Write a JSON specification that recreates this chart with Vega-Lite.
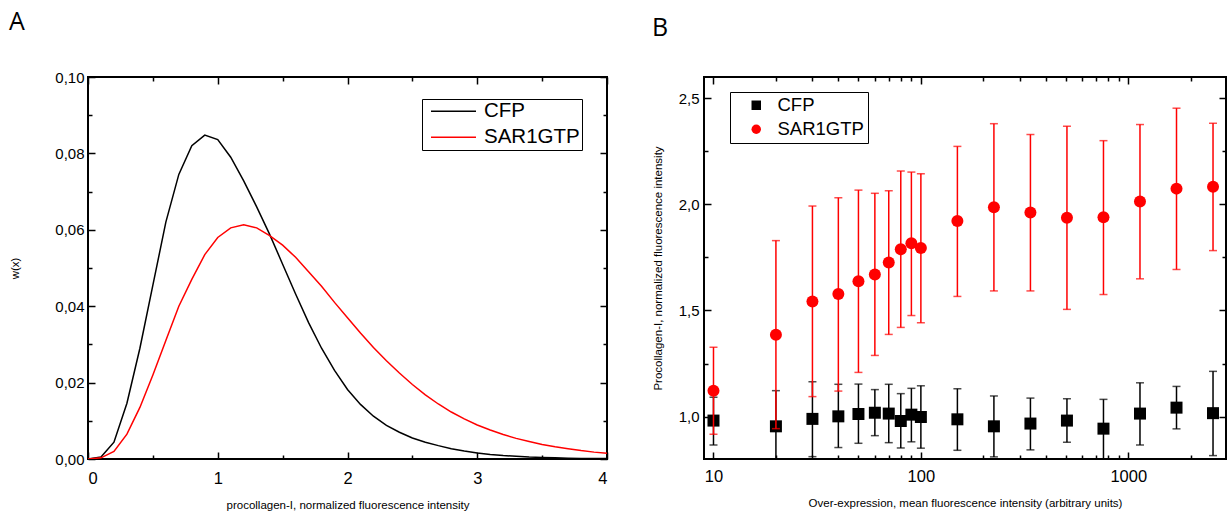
{
  "$schema": "https://vega.github.io/schema/vega-lite/v6.json",
  "background": "white",
  "padding": {"left": 8, "top": 9, "right": 0, "bottom": 0},
  "spacing": 40,
  "resolve": {"scale": {"color": "independent", "shape": "independent"}, "legend": {"color": "independent", "shape": "independent"}},
  "config": {
    "view": {"stroke": "black", "strokeWidth": 2},
    "axis": {"domain": false, "grid": false, "labelFont": "Liberation Sans", "labelFontSize": 15, "labelColor": "black", "titleFont": "Liberation Sans", "titleFontSize": 11.5, "titleFontWeight": "normal", "titleColor": "black", "tickColor": "black", "tickWidth": 1.5},
    "title": {"font": "Open Sans", "fontSize": 25, "fontWeight": "normal", "anchor": "start", "frame": "bounds", "baseline": "alphabetic", "offset": 35, "color": "black"}
  },
  "datasets": {
    "dist": [
      {"x": 0, "curve": "CFP", "w": 0}, {"x": 0.1, "curve": "CFP", "w": 0.0005}, {"x": 0.2, "curve": "CFP", "w": 0.0044}, {"x": 0.3, "curve": "CFP", "w": 0.0146}, {"x": 0.4, "curve": "CFP", "w": 0.029}, {"x": 0.5, "curve": "CFP", "w": 0.0455}, {"x": 0.6, "curve": "CFP", "w": 0.062}, {"x": 0.7, "curve": "CFP", "w": 0.0745}, {"x": 0.8, "curve": "CFP", "w": 0.082}, {"x": 0.9, "curve": "CFP", "w": 0.0848}, {"x": 1.0, "curve": "CFP", "w": 0.0836}, {"x": 1.1, "curve": "CFP", "w": 0.079}, {"x": 1.2, "curve": "CFP", "w": 0.0728}, {"x": 1.3, "curve": "CFP", "w": 0.066}, {"x": 1.4, "curve": "CFP", "w": 0.0588}, {"x": 1.5, "curve": "CFP", "w": 0.051}, {"x": 1.6, "curve": "CFP", "w": 0.0432}, {"x": 1.7, "curve": "CFP", "w": 0.0357}, {"x": 1.8, "curve": "CFP", "w": 0.029}, {"x": 1.9, "curve": "CFP", "w": 0.0232}, {"x": 2.0, "curve": "CFP", "w": 0.0182}, {"x": 2.1, "curve": "CFP", "w": 0.0143}, {"x": 2.2, "curve": "CFP", "w": 0.0112}, {"x": 2.3, "curve": "CFP", "w": 0.0088}, {"x": 2.4, "curve": "CFP", "w": 0.007}, {"x": 2.5, "curve": "CFP", "w": 0.0055}, {"x": 2.6, "curve": "CFP", "w": 0.0044}, {"x": 2.7, "curve": "CFP", "w": 0.0035}, {"x": 2.8, "curve": "CFP", "w": 0.0027}, {"x": 2.9, "curve": "CFP", "w": 0.0021}, {"x": 3.0, "curve": "CFP", "w": 0.0016}, {"x": 3.1, "curve": "CFP", "w": 0.0012}, {"x": 3.2, "curve": "CFP", "w": 0.0009}, {"x": 3.3, "curve": "CFP", "w": 0.0007}, {"x": 3.4, "curve": "CFP", "w": 0.0005}, {"x": 3.5, "curve": "CFP", "w": 0.0004}, {"x": 3.6, "curve": "CFP", "w": 0.0003}, {"x": 3.7, "curve": "CFP", "w": 0.0002}, {"x": 3.8, "curve": "CFP", "w": 0.0001}, {"x": 3.9, "curve": "CFP", "w": 0.0001}, {"x": 4.0, "curve": "CFP", "w": 0.0001},
      {"x": 0, "curve": "SAR1GTP", "w": 0}, {"x": 0.1, "curve": "SAR1GTP", "w": 0.0003}, {"x": 0.2, "curve": "SAR1GTP", "w": 0.002}, {"x": 0.3, "curve": "SAR1GTP", "w": 0.0065}, {"x": 0.4, "curve": "SAR1GTP", "w": 0.0135}, {"x": 0.5, "curve": "SAR1GTP", "w": 0.022}, {"x": 0.6, "curve": "SAR1GTP", "w": 0.031}, {"x": 0.7, "curve": "SAR1GTP", "w": 0.04}, {"x": 0.8, "curve": "SAR1GTP", "w": 0.047}, {"x": 0.9, "curve": "SAR1GTP", "w": 0.0535}, {"x": 1.0, "curve": "SAR1GTP", "w": 0.058}, {"x": 1.1, "curve": "SAR1GTP", "w": 0.0605}, {"x": 1.2, "curve": "SAR1GTP", "w": 0.0613}, {"x": 1.3, "curve": "SAR1GTP", "w": 0.0605}, {"x": 1.4, "curve": "SAR1GTP", "w": 0.0585}, {"x": 1.5, "curve": "SAR1GTP", "w": 0.056}, {"x": 1.6, "curve": "SAR1GTP", "w": 0.0528}, {"x": 1.7, "curve": "SAR1GTP", "w": 0.049}, {"x": 1.8, "curve": "SAR1GTP", "w": 0.0452}, {"x": 1.9, "curve": "SAR1GTP", "w": 0.041}, {"x": 2.0, "curve": "SAR1GTP", "w": 0.037}, {"x": 2.1, "curve": "SAR1GTP", "w": 0.033}, {"x": 2.2, "curve": "SAR1GTP", "w": 0.0292}, {"x": 2.3, "curve": "SAR1GTP", "w": 0.0257}, {"x": 2.4, "curve": "SAR1GTP", "w": 0.0225}, {"x": 2.5, "curve": "SAR1GTP", "w": 0.0195}, {"x": 2.6, "curve": "SAR1GTP", "w": 0.0168}, {"x": 2.7, "curve": "SAR1GTP", "w": 0.0144}, {"x": 2.8, "curve": "SAR1GTP", "w": 0.0123}, {"x": 2.9, "curve": "SAR1GTP", "w": 0.0105}, {"x": 3.0, "curve": "SAR1GTP", "w": 0.0089}, {"x": 3.1, "curve": "SAR1GTP", "w": 0.0076}, {"x": 3.2, "curve": "SAR1GTP", "w": 0.0064}, {"x": 3.3, "curve": "SAR1GTP", "w": 0.0054}, {"x": 3.4, "curve": "SAR1GTP", "w": 0.0046}, {"x": 3.5, "curve": "SAR1GTP", "w": 0.0038}, {"x": 3.6, "curve": "SAR1GTP", "w": 0.0032}, {"x": 3.7, "curve": "SAR1GTP", "w": 0.0027}, {"x": 3.8, "curve": "SAR1GTP", "w": 0.0022}, {"x": 3.9, "curve": "SAR1GTP", "w": 0.0018}, {"x": 4.0, "curve": "SAR1GTP", "w": 0.0015}
    ],
    "expr": [
      {"x": 10, "series": "CFP", "mean": 0.981, "lo": 0.866, "hi": 1.091},
      {"x": 20, "series": "CFP", "mean": 0.954, "lo": 0.786, "hi": 1.122},
      {"x": 30, "series": "CFP", "mean": 0.989, "lo": 0.811, "hi": 1.164},
      {"x": 40, "series": "CFP", "mean": 1.001, "lo": 0.854, "hi": 1.152},
      {"x": 50, "series": "CFP", "mean": 1.012, "lo": 0.874, "hi": 1.153},
      {"x": 60, "series": "CFP", "mean": 1.018, "lo": 0.91, "hi": 1.127},
      {"x": 70, "series": "CFP", "mean": 1.014, "lo": 0.877, "hi": 1.152},
      {"x": 80, "series": "CFP", "mean": 0.979, "lo": 0.852, "hi": 1.108},
      {"x": 90, "series": "CFP", "mean": 1.009, "lo": 0.881, "hi": 1.133},
      {"x": 100, "series": "CFP", "mean": 0.998, "lo": 0.851, "hi": 1.145},
      {"x": 150, "series": "CFP", "mean": 0.987, "lo": 0.841, "hi": 1.131},
      {"x": 225, "series": "CFP", "mean": 0.954, "lo": 0.81, "hi": 1.097},
      {"x": 337.5, "series": "CFP", "mean": 0.967, "lo": 0.843, "hi": 1.087},
      {"x": 506.25, "series": "CFP", "mean": 0.981, "lo": 0.879, "hi": 1.084},
      {"x": 759.4, "series": "CFP", "mean": 0.943, "lo": 0.795, "hi": 1.081},
      {"x": 1139, "series": "CFP", "mean": 1.014, "lo": 0.866, "hi": 1.159},
      {"x": 1708.6, "series": "CFP", "mean": 1.042, "lo": 0.942, "hi": 1.142},
      {"x": 2562.9, "series": "CFP", "mean": 1.016, "lo": 0.816, "hi": 1.213},
      {"x": 10, "series": "SAR1GTP", "mean": 1.122, "lo": 0.917, "hi": 1.327},
      {"x": 20, "series": "SAR1GTP", "mean": 1.385, "lo": 0.943, "hi": 1.829},
      {"x": 30, "series": "SAR1GTP", "mean": 1.542, "lo": 1.094, "hi": 1.992},
      {"x": 40, "series": "SAR1GTP", "mean": 1.577, "lo": 1.12, "hi": 2.031},
      {"x": 50, "series": "SAR1GTP", "mean": 1.638, "lo": 1.208, "hi": 2.067},
      {"x": 60, "series": "SAR1GTP", "mean": 1.669, "lo": 1.288, "hi": 2.052},
      {"x": 70, "series": "SAR1GTP", "mean": 1.726, "lo": 1.387, "hi": 2.064},
      {"x": 80, "series": "SAR1GTP", "mean": 1.788, "lo": 1.42, "hi": 2.157},
      {"x": 90, "series": "SAR1GTP", "mean": 1.817, "lo": 1.476, "hi": 2.152},
      {"x": 100, "series": "SAR1GTP", "mean": 1.794, "lo": 1.442, "hi": 2.144},
      {"x": 150, "series": "SAR1GTP", "mean": 1.921, "lo": 1.566, "hi": 2.273},
      {"x": 225, "series": "SAR1GTP", "mean": 1.986, "lo": 1.592, "hi": 2.38},
      {"x": 337.5, "series": "SAR1GTP", "mean": 1.962, "lo": 1.592, "hi": 2.329},
      {"x": 506.25, "series": "SAR1GTP", "mean": 1.937, "lo": 1.505, "hi": 2.368},
      {"x": 759.4, "series": "SAR1GTP", "mean": 1.939, "lo": 1.575, "hi": 2.3},
      {"x": 1139, "series": "SAR1GTP", "mean": 2.013, "lo": 1.649, "hi": 2.376},
      {"x": 1708.6, "series": "SAR1GTP", "mean": 2.074, "lo": 1.693, "hi": 2.453},
      {"x": 2562.9, "series": "SAR1GTP", "mean": 2.083, "lo": 1.782, "hi": 2.382}
    ]
  },
  "hconcat": [
    {
      "width": 519,
      "height": 382,
      "title": {"text": "A"},
      "data": {"name": "dist"},
      "layer": [
        {
          "mark": {"type": "line", "strokeWidth": 1.5, "clip": true},
          "encoding": {
            "x": {"field": "x", "type": "quantitative", "scale": {"domain": [0, 4], "nice": false, "zero": false},
              "axis": {"orient": "bottom", "title": "procollagen-I, normalized fluorescence intensity", "values": [0, 0.5, 1, 1.5, 2, 2.5, 3, 3.5, 4],
                "labelExpr": "datum.value % 1 === 0 ? format(datum.value, 'd') : ''",
                "tickSize": {"condition": {"test": "datum.value % 1 === 0", "value": -7}, "value": -4},
                "labelPadding": 18, "labelFontSize": 16.5, "titleY": 46, "titleBaseline": "middle"}},
            "y": {"field": "w", "type": "quantitative", "scale": {"domain": [0, 0.1], "nice": false},
              "axis": {"orient": "left", "title": "w(x)", "values": [0, 0.01, 0.02, 0.03, 0.04, 0.05, 0.06, 0.07, 0.08, 0.09, 0.1],
                "labelExpr": "round(datum.value * 100) % 2 === 0 ? replace(format(datum.value, '.2f'), '.', ',') : ''",
                "tickSize": {"condition": {"test": "round(datum.value * 100) % 2 === 0", "value": -7}, "value": -4},
                "labelPadding": 11, "titleX": -73, "titleAngle": 270, "titleBaseline": "middle"}},
            "color": {"field": "curve", "type": "nominal", "scale": {"domain": ["CFP", "SAR1GTP"], "range": ["black", "#ff0000"]},
              "legend": {"title": null, "orient": "none", "legendX": 334, "legendY": 22, "strokeColor": "black", "fillColor": "white", "padding": 2,
                "symbolType": "M-1,0H1", "symbolSize": 2025, "symbolStrokeWidth": 1.5, "symbolOffset": 6, "clipHeight": 20.5,
                "labelFont": "Liberation Sans", "labelFontSize": 20.5, "labelColor": "black", "labelOffset": 7, "rowPadding": 5}}
          }
        },
        {
          "mark": {"type": "point", "opacity": 0},
          "encoding": {
            "x": {"field": "x", "type": "quantitative",
              "axis": {"orient": "top", "title": null, "labels": false, "values": [0, 0.5, 1, 1.5, 2, 2.5, 3, 3.5, 4],
                "tickSize": {"condition": {"test": "datum.value % 1 === 0", "value": -7}, "value": -4}}},
            "y": {"field": "w", "type": "quantitative",
              "axis": {"orient": "right", "title": null, "labels": false, "values": [0, 0.01, 0.02, 0.03, 0.04, 0.05, 0.06, 0.07, 0.08, 0.09, 0.1],
                "tickSize": {"condition": {"test": "round(datum.value * 100) % 2 === 0", "value": -7}, "value": -4}}}
          }
        }
      ],
      "resolve": {"axis": {"x": "independent", "y": "independent"}}
    },
    {
      "width": 522,
      "height": 382,
      "title": {"text": "B"},
      "data": {"name": "expr"},
      "layer": [
        {
          "transform": [{"filter": "datum.series === 'CFP'"}],
          "mark": {"type": "rule", "color": "black", "strokeWidth": 1.5, "clip": true},
          "encoding": {
            "x": {"field": "x", "type": "quantitative", "scale": {"type": "log", "domain": [9, 2960], "nice": false},
              "axis": {"orient": "bottom", "title": "Over-expression, mean fluorescence intensity (arbitrary units)",
                "values": [10, 20, 30, 40, 50, 60, 70, 80, 90, 100, 200, 300, 400, 500, 600, 700, 800, 900, 1000, 2000],
                "labelExpr": "(datum.value === 10 || datum.value === 100 || datum.value === 1000) ? format(datum.value, 'd') : ''",
                "tickSize": {"condition": {"test": "datum.value === 10 || datum.value === 100 || datum.value === 1000", "value": -7}, "value": -4},
                "labelPadding": 16, "labelFontSize": 16.5, "titleY": 44.5, "titleBaseline": "middle"}},
            "y": {"field": "lo", "type": "quantitative", "scale": {"domain": [0.8, 2.6], "nice": false, "zero": false},
              "axis": {"orient": "left", "title": "Procollagen-I, normalized fluorescence intensity",
                "values": [1, 1.25, 1.5, 1.75, 2, 2.25, 2.5],
                "labelExpr": "round(datum.value * 4) % 2 === 0 ? replace(format(datum.value, '.1f'), '.', ',') : ''",
                "tickSize": {"condition": {"test": "round(datum.value * 4) % 2 === 0", "value": -7}, "value": -4},
                "labelPadding": 12, "titleX": -46, "titleAngle": 270, "titleBaseline": "middle"}},
            "y2": {"field": "hi"}
          }
        },
        {
          "transform": [{"filter": "datum.series === 'CFP'"}],
          "mark": {"type": "tick", "orient": "horizontal", "color": "black", "size": 8, "thickness": 1.5, "clip": true},
          "encoding": {"x": {"field": "x", "type": "quantitative", "axis": null}, "y": {"field": "hi", "type": "quantitative", "axis": null}}
        },
        {
          "transform": [{"filter": "datum.series === 'CFP'"}],
          "mark": {"type": "tick", "orient": "horizontal", "color": "black", "size": 8, "thickness": 1.5, "clip": true},
          "encoding": {"x": {"field": "x", "type": "quantitative", "axis": null}, "y": {"field": "lo", "type": "quantitative", "axis": null}}
        },
        {
          "transform": [{"filter": "datum.series === 'CFP'"}],
          "mark": {"type": "point", "filled": true, "opacity": 1, "size": 144, "clip": true},
          "encoding": {
            "x": {"field": "x", "type": "quantitative", "axis": null},
            "y": {"field": "mean", "type": "quantitative", "axis": null},
            "color": {"field": "series", "type": "nominal", "scale": {"domain": ["CFP", "SAR1GTP"], "range": ["black", "#ff0000"]},
              "legend": {"title": null, "orient": "none", "legendX": 26, "legendY": 15, "strokeColor": "black", "fillColor": "white", "padding": 4,
                "symbolSize": 90, "symbolOffset": 13, "symbolOpacity": 1,
                "labelFont": "Liberation Sans", "labelFontSize": 18.5, "labelColor": "black", "labelOffset": 12, "rowPadding": 5}},
            "shape": {"field": "series", "type": "nominal", "scale": {"domain": ["CFP", "SAR1GTP"], "range": ["square", "circle"]}}
          }
        },
        {
          "transform": [{"filter": "datum.series === 'SAR1GTP'"}],
          "mark": {"type": "rule", "color": "#ff0000", "strokeWidth": 1.5, "clip": true},
          "encoding": {"x": {"field": "x", "type": "quantitative", "axis": null}, "y": {"field": "lo", "type": "quantitative", "axis": null}, "y2": {"field": "hi"}}
        },
        {
          "transform": [{"filter": "datum.series === 'SAR1GTP'"}],
          "mark": {"type": "tick", "orient": "horizontal", "color": "#ff0000", "size": 8, "thickness": 1.5, "clip": true},
          "encoding": {"x": {"field": "x", "type": "quantitative", "axis": null}, "y": {"field": "hi", "type": "quantitative", "axis": null}}
        },
        {
          "transform": [{"filter": "datum.series === 'SAR1GTP'"}],
          "mark": {"type": "tick", "orient": "horizontal", "color": "#ff0000", "size": 8, "thickness": 1.5, "clip": true},
          "encoding": {"x": {"field": "x", "type": "quantitative", "axis": null}, "y": {"field": "lo", "type": "quantitative", "axis": null}}
        },
        {
          "transform": [{"filter": "datum.series === 'SAR1GTP'"}],
          "mark": {"type": "point", "filled": true, "opacity": 1, "size": 144, "clip": true},
          "encoding": {
            "x": {"field": "x", "type": "quantitative", "axis": null},
            "y": {"field": "mean", "type": "quantitative", "axis": null},
            "color": {"field": "series", "type": "nominal"},
            "shape": {"field": "series", "type": "nominal"}
          }
        },
        {
          "mark": {"type": "point", "opacity": 0},
          "encoding": {
            "x": {"field": "x", "type": "quantitative",
              "axis": {"orient": "top", "title": null, "labels": false,
                "values": [10, 20, 30, 40, 50, 60, 70, 80, 90, 100, 200, 300, 400, 500, 600, 700, 800, 900, 1000, 2000],
                "tickSize": {"condition": {"test": "datum.value === 10 || datum.value === 100 || datum.value === 1000", "value": -7}, "value": -4}}},
            "y": {"field": "mean", "type": "quantitative",
              "axis": {"orient": "right", "title": null, "labels": false, "values": [1, 1.25, 1.5, 1.75, 2, 2.25, 2.5],
                "tickSize": {"condition": {"test": "round(datum.value * 4) % 2 === 0", "value": -7}, "value": -4}}}
          }
        }
      ],
      "resolve": {"axis": {"x": "independent", "y": "independent"}}
    }
  ]
}
